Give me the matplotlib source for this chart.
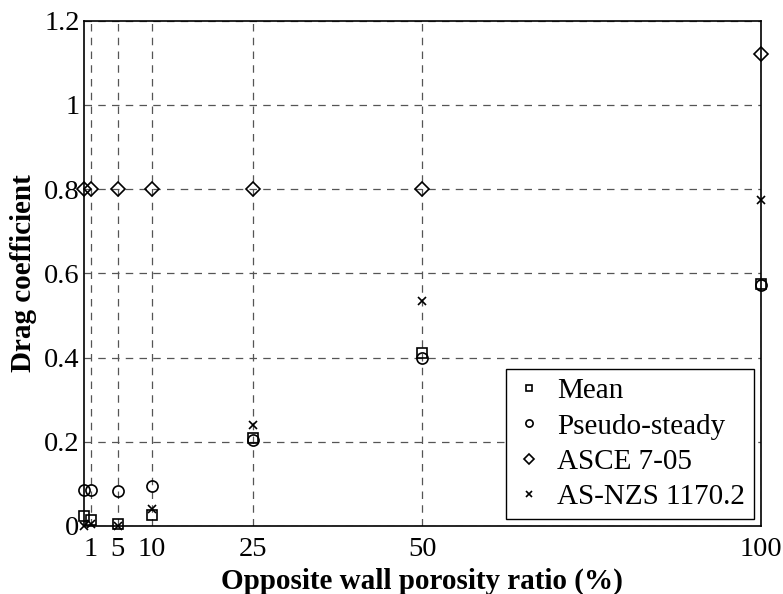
import matplotlib
matplotlib.use("Agg")
import matplotlib.pyplot as plt

plt.rcParams['font.family'] = ['Liberation Serif', 'DejaVu Serif']

porosity = [0, 1, 5, 10, 25, 50, 100]
mean_cd = [0.024, 0.015, 0.005, 0.026, 0.208, 0.41, 0.575]
pseudo_cd = [0.085, 0.085, 0.083, 0.095, 0.205, 0.40, 0.572]
asce_cd = [0.80, 0.80, 0.80, 0.80, 0.80, 0.80, 1.12]
asnzs_cd = [0.0, 0.005, 0.0, 0.04, 0.24, 0.535, 0.775]

x_ticks = [1, 5, 10, 25, 50, 100]
y_ticks = [0, 0.2, 0.4, 0.6, 0.8, 1.0, 1.2]
y_labels = ['0', '0.2', '0.4', '0.6', '0.8', '1', '1.2']

fig, ax = plt.subplots(figsize=(7.83, 5.94), dpi=100)
fig.subplots_adjust(left=0.107, right=0.972, top=0.965, bottom=0.1145)

ax.plot(porosity, mean_cd, ls='none', marker='s', ms=7, mfc='none', mec='black', mew=1.2, label='Mean', clip_on=False)
ax.plot(porosity, pseudo_cd, ls='none', marker='o', ms=8, mfc='none', mec='black', mew=1.2, label='Pseudo-steady', clip_on=False)
ax.plot(porosity, asce_cd, ls='none', marker='D', ms=7.5, mfc='none', mec='black', mew=1.2, label='ASCE 7-05', clip_on=False)
ax.plot(porosity, asnzs_cd, ls='none', marker='x', ms=6, mec='black', mew=1.2, label='AS-NZS 1170.2', clip_on=False)

ax.set_xlim(0, 100)
ax.set_ylim(0, 1.2)
ax.set_xticks(x_ticks)
ax.set_yticks(y_ticks)
ax.set_yticklabels(y_labels)
ax.tick_params(direction='in', length=0, labelsize=20.5)
ax.tick_params(axis='x', pad=8)
ax.tick_params(axis='y', pad=3)
ax.grid(True, ls=(0, (6, 5)), color='#555555', lw=0.9)

ax.set_xlabel('Opposite wall porosity ratio (%)', fontsize=21, fontweight='bold', labelpad=4)
ax.set_ylabel('Drag coefficient', fontsize=21, fontweight='bold', labelpad=5)

for s in ax.spines.values():
    s.set_linewidth(1.2)

leg = ax.legend(loc='lower right', fontsize=21, frameon=True, fancybox=False, edgecolor='black',
                framealpha=1, borderpad=0.3, labelspacing=0.3, handletextpad=0.45, handlelength=1.0,
                markerscale=0.65, borderaxespad=0.25)
leg.get_frame().set_linewidth(1.0)

fig.savefig('out.png', dpi=100)
